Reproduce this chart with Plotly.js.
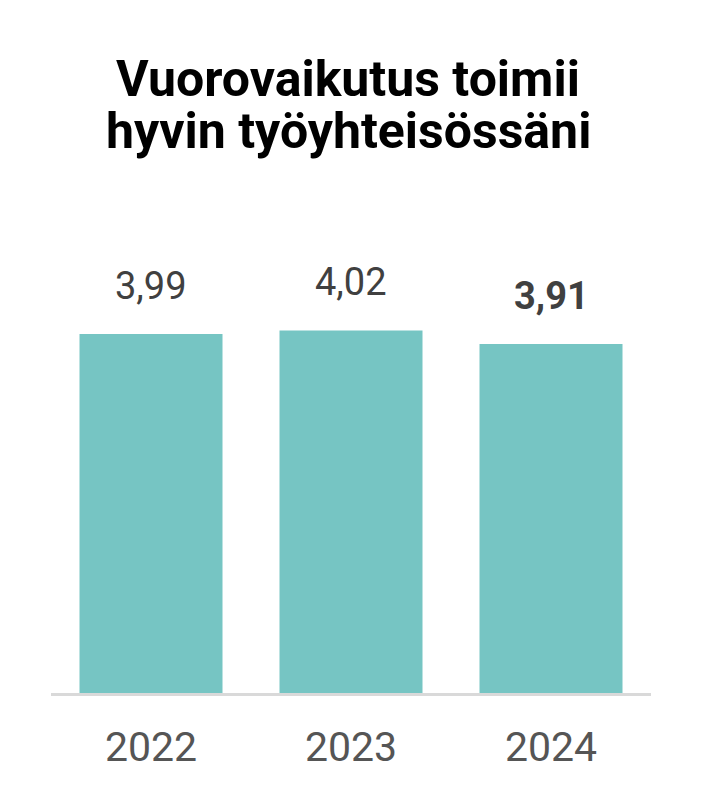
<!DOCTYPE html>
<html>
<head>
<meta charset="utf-8">
<script src="https://cdn.plot.ly/plotly-3.0.1.min.js"></script>
<style>html,body{margin:0;padding:0;background:#fff;}#chart{width:701px;height:800px;}</style>
</head>
<body>
<div id="chart"></div>
<script>
const years = ["2022", "2023", "2024"];
const values = [3.99, 4.02, 3.91];
const labels = ["3,99", "4,02", "<b>3,91</b>"];
const titleLine1 = "<b>Vuorovaikutus toimii</b>";
const titleLine2 = "<b>hyvin työyhteisössäni</b>";

const trace = {
  type: "bar",
  x: years,
  y: values,
  marker: {color: "#76c5c3"},
  hoverinfo: "skip"
};

const annotations = years.map((yr, i) => ({
  x: i, y: values[i], xref: "x", yref: "y",
  text: labels[i], showarrow: false,
  yanchor: "bottom", yshift: 24,
  font: {family: "Roboto, sans-serif", size: 38, color: "#404040"}
}));
annotations.push({
  x: 0.495, y: 1.139, xref: "paper", yref: "paper",
  xanchor: "center", yanchor: "middle",
  text: titleLine2, showarrow: false,
  font: {family: "Roboto, sans-serif", size: 50, color: "#000"}
});

const layout = {
  width: 701, height: 800,
  margin: {l: 51, r: 50, t: 200, b: 107},
  paper_bgcolor: "#fff", plot_bgcolor: "#fff",
  bargap: 0.285,
  showlegend: false,
  title: {
    text: titleLine1, x: 0.4964, xanchor: "center", y: 0.9019, yanchor: "middle",
    font: {family: "Roboto, sans-serif", size: 50, color: "#000"}
  },
  xaxis: {
    type: "category",
    range: [-0.5, 2.5],
    showline: true, linecolor: "#d9d9d9", linewidth: 3,
    ticks: "outside", ticklen: 16, tickcolor: "rgba(0,0,0,0)",
    showgrid: false, zeroline: false,
    tickfont: {family: "Roboto, sans-serif", size: 41, color: "#555555"}
  },
  yaxis: {
    range: [1.1, 5.07],
    visible: false, showgrid: false, zeroline: false, fixedrange: true
  },
  annotations: annotations
};

Plotly.newPlot("chart", [trace], layout, {displayModeBar: false, staticPlot: true});
</script>
</body>
</html>
